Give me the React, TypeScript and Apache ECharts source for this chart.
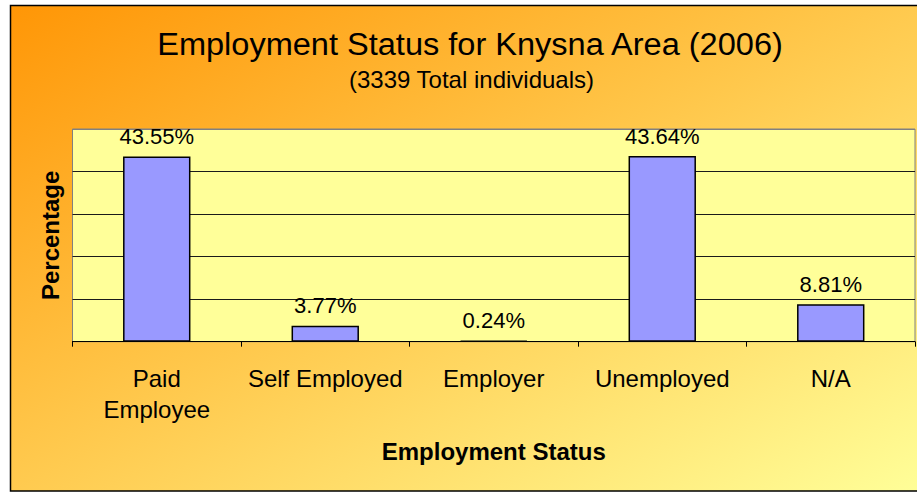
import React, { useEffect, useRef } from "react";
import * as echarts from "echarts";

const categories = ["Paid\nEmployee", "Self Employed", "Employer", "Unemployed", "N/A"];
const percentages = [43.55, 3.77, 0.24, 43.64, 8.81];
const yTicks = [0, 10, 20, 30, 40, 50];
const titleText = "Employment Status for Knysna Area (2006)";
const subtitleText = "(3339 Total individuals)";
const xName = "Employment Status";
const yName = "Percentage";

export default function App() {
  const ref = useRef<HTMLDivElement>(null);
  useEffect(() => {
    if (!ref.current) return;
    const chart = echarts.init(ref.current, null, { renderer: "svg" });
    chart.setOption({
      animation: false,
      backgroundColor: "#ffffff",
      graphic: [
        {
          type: "rect",
          z: -10,
          silent: true,
          shape: { x: 10.5, y: 5.5, width: 920, height: 485.5 },
          style: {
            fill: new echarts.graphic.LinearGradient(0, 0, 1, 1, [
              { offset: 0, color: "#FF9606" },
              { offset: 1, color: "#FFFF99" },
            ]),
            stroke: "#000000",
            lineWidth: 1.5,
          },
        },
        {
          type: "text",
          x: 470,
          y: 44.5,
          scaleX: 1.05,
          style: {
            text: titleText,
            fontFamily: "Liberation Sans, Arial, sans-serif",
            fontSize: 31,
            fill: "#000",
            textAlign: "center",
            textVerticalAlign: "middle",
          },
        },
        {
          type: "text",
          x: 471.5,
          y: 79.7,
          style: {
            text: subtitleText,
            fontFamily: "Liberation Sans, Arial, sans-serif",
            fontSize: 24,
            fill: "#000",
            textAlign: "center",
            textVerticalAlign: "middle",
          },
        },
      ],
      grid: {
        left: 72.5,
        top: 129,
        right: 2,
        bottom: 151.3,
        show: true,
        backgroundColor: "#FFFF99",
        borderColor: "#808080",
        borderWidth: 1,
      },
      xAxis: {
        type: "category",
        data: categories,
        boundaryGap: true,
        name: xName,
        nameLocation: "middle",
        nameGap: 98,
        nameTextStyle: {
          fontFamily: "Liberation Sans, Arial, sans-serif",
          fontSize: 24,
          fontWeight: "bold",
          color: "#000",
        },
        axisLine: { show: true, lineStyle: { color: "#000", width: 1 } },
        axisTick: { show: true, length: 5, alignWithLabel: false, lineStyle: { color: "#000" } },
        axisLabel: {
          interval: 0,
          margin: 21,
          fontFamily: "Liberation Sans, Arial, sans-serif",
          fontSize: 24,
          lineHeight: 31,
          color: "#000",
        },
      },
      yAxis: {
        type: "value",
        min: yTicks[0],
        max: yTicks[yTicks.length - 1],
        interval: 10,
        name: yName,
        nameLocation: "middle",
        nameGap: 10,
        nameRotate: 90,
        nameTextStyle: {
          fontFamily: "Liberation Sans, Arial, sans-serif",
          fontSize: 24,
          fontWeight: "bold",
          color: "#000",
        },
        axisLine: { show: false },
        axisTick: { show: false },
        axisLabel: { show: false },
        splitLine: {
          show: true,
          lineStyle: {
            color: ["#1a1a1a", "#1a1a1a", "#1a1a1a", "#1a1a1a", "#1a1a1a", "#808080"],
            width: 1,
          },
        },
      },
      series: [
        {
          type: "bar",
          data: percentages,
          barWidth: "40%",
          itemStyle: { color: "#9999FF", borderColor: "#000", borderWidth: 1.5 },
          label: {
            show: true,
            position: "top",
            distance: 9,
            formatter: (p: any) => p.value.toFixed(2) + "%",
            fontFamily: "Liberation Sans, Arial, sans-serif",
            fontSize: 22,
            color: "#000",
          },
        },
      ],
    });
    return () => chart.dispose();
  }, []);
  return (
    <div
      ref={ref}
      style={{ position: "fixed", left: 0, top: 0, width: 917, height: 493 }}
    />
  );
}
